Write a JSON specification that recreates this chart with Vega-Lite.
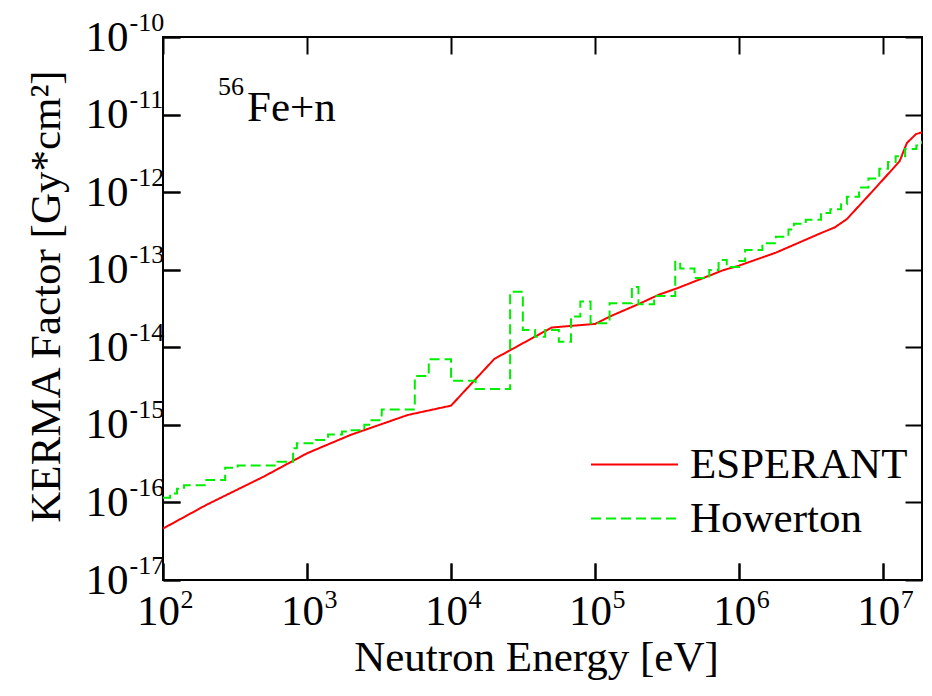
{
  "$schema": "https://vega.github.io/schema/vega-lite/v6.json",
  "width": 759,
  "height": 543,
  "autosize": {"type": "none"},
  "padding": {"left": 163, "top": 37, "right": 10, "bottom": 116},
  "background": "white",
  "config": {
    "view": {"stroke": "black", "strokeWidth": 2},
    "font": "Liberation Serif",
    "axis": {
      "grid": false,
      "domain": false,
      "tickColor": "black",
      "tickWidth": 2,
      "tickSize": -17,
      "labelFont": "Liberation Serif",
      "labelFontSize": 43,
      "labelColor": "black",
      "titleFont": "Liberation Serif",
      "titleFontSize": 43,
      "titleFontWeight": "normal",
      "titleColor": "black",
      "labelFlush": false,
      "labelOverlap": false,
      "labelBound": false
    },
    "legend": {
      "labelFont": "Liberation Serif",
      "labelFontSize": 43,
      "labelColor": "black",
      "labelLimit": 400
    }
  },
  "datasets": {
    "curves": [
      {"series": "ESPERANT", "E": 100, "K": 4.6e-17},
      {"series": "ESPERANT", "E": 200, "K": 9.3e-17},
      {"series": "ESPERANT", "E": 500, "K": 2.15e-16},
      {"series": "ESPERANT", "E": 1000, "K": 4.3e-16},
      {"series": "ESPERANT", "E": 2000, "K": 7.4e-16},
      {"series": "ESPERANT", "E": 5000, "K": 1.34e-15},
      {"series": "ESPERANT", "E": 10000, "K": 1.77e-15},
      {"series": "ESPERANT", "E": 20000, "K": 7.1e-15},
      {"series": "ESPERANT", "E": 50000, "K": 1.8e-14},
      {"series": "ESPERANT", "E": 100000, "K": 2.0e-14},
      {"series": "ESPERANT", "E": 127000, "K": 2.5e-14},
      {"series": "ESPERANT", "E": 200000, "K": 3.6e-14},
      {"series": "ESPERANT", "E": 280000, "K": 4.8e-14},
      {"series": "ESPERANT", "E": 370000, "K": 5.75e-14},
      {"series": "ESPERANT", "E": 780000, "K": 9.9e-14},
      {"series": "ESPERANT", "E": 1000000, "K": 1.13e-13},
      {"series": "ESPERANT", "E": 1800000, "K": 1.66e-13},
      {"series": "ESPERANT", "E": 3750000, "K": 3.0e-13},
      {"series": "ESPERANT", "E": 4600000, "K": 3.5e-13},
      {"series": "ESPERANT", "E": 5600000, "K": 4.5e-13},
      {"series": "ESPERANT", "E": 8600000, "K": 1.07e-12},
      {"series": "ESPERANT", "E": 13000000, "K": 2.5e-12},
      {"series": "ESPERANT", "E": 14600000, "K": 4.3e-12},
      {"series": "ESPERANT", "E": 16900000, "K": 5.6e-12},
      {"series": "ESPERANT", "E": 18600000, "K": 5.9e-12},
      {"series": "Howerton", "E": 100, "K": 1.15e-16},
      {"series": "Howerton", "E": 112, "K": 1.3e-16},
      {"series": "Howerton", "E": 125, "K": 1.5e-16},
      {"series": "Howerton", "E": 140, "K": 1.66e-16},
      {"series": "Howerton", "E": 200, "K": 1.95e-16},
      {"series": "Howerton", "E": 270, "K": 2.8e-16},
      {"series": "Howerton", "E": 330, "K": 3.0e-16},
      {"series": "Howerton", "E": 620, "K": 3.35e-16},
      {"series": "Howerton", "E": 800, "K": 5.0e-16},
      {"series": "Howerton", "E": 850, "K": 5.8e-16},
      {"series": "Howerton", "E": 1150, "K": 6.4e-16},
      {"series": "Howerton", "E": 1400, "K": 7.5e-16},
      {"series": "Howerton", "E": 1750, "K": 8.2e-16},
      {"series": "Howerton", "E": 2000, "K": 8.5e-16},
      {"series": "Howerton", "E": 2500, "K": 1.0e-15},
      {"series": "Howerton", "E": 2800, "K": 1.15e-15},
      {"series": "Howerton", "E": 3300, "K": 1.58e-15},
      {"series": "Howerton", "E": 5600, "K": 4.27e-15},
      {"series": "Howerton", "E": 7000, "K": 7.0e-15},
      {"series": "Howerton", "E": 10000, "K": 3.7e-15},
      {"series": "Howerton", "E": 14800, "K": 2.9e-15},
      {"series": "Howerton", "E": 25700, "K": 5.2e-14},
      {"series": "Howerton", "E": 31500, "K": 1.67e-14},
      {"series": "Howerton", "E": 38300, "K": 1.37e-14},
      {"series": "Howerton", "E": 45000, "K": 1.67e-14},
      {"series": "Howerton", "E": 56000, "K": 1.18e-14},
      {"series": "Howerton", "E": 68000, "K": 2.5e-14},
      {"series": "Howerton", "E": 79000, "K": 3.9e-14},
      {"series": "Howerton", "E": 93000, "K": 2.04e-14},
      {"series": "Howerton", "E": 126000, "K": 3.7e-14},
      {"series": "Howerton", "E": 180000, "K": 6.0e-14},
      {"series": "Howerton", "E": 200000, "K": 3.6e-14},
      {"series": "Howerton", "E": 257000, "K": 4.6e-14},
      {"series": "Howerton", "E": 360000, "K": 1.27e-13},
      {"series": "Howerton", "E": 390000, "K": 1.04e-13},
      {"series": "Howerton", "E": 490000, "K": 7.8e-14},
      {"series": "Howerton", "E": 620000, "K": 9.9e-14},
      {"series": "Howerton", "E": 720000, "K": 1.33e-13},
      {"series": "Howerton", "E": 820000, "K": 1.08e-13},
      {"series": "Howerton", "E": 1000000, "K": 1.3e-13},
      {"series": "Howerton", "E": 1100000, "K": 1.8e-13},
      {"series": "Howerton", "E": 1450000, "K": 2.2e-13},
      {"series": "Howerton", "E": 1800000, "K": 2.67e-13},
      {"series": "Howerton", "E": 2200000, "K": 3.3e-13},
      {"series": "Howerton", "E": 2400000, "K": 3.9e-13},
      {"series": "Howerton", "E": 2900000, "K": 4.4e-13},
      {"series": "Howerton", "E": 3700000, "K": 5.4e-13},
      {"series": "Howerton", "E": 4300000, "K": 6.0e-13},
      {"series": "Howerton", "E": 5100000, "K": 7.0e-13},
      {"series": "Howerton", "E": 5600000, "K": 8.7e-13},
      {"series": "Howerton", "E": 6800000, "K": 1.15e-12},
      {"series": "Howerton", "E": 7900000, "K": 1.5e-12},
      {"series": "Howerton", "E": 9400000, "K": 2.0e-12},
      {"series": "Howerton", "E": 10800000, "K": 2.45e-12},
      {"series": "Howerton", "E": 12200000, "K": 2.9e-12},
      {"series": "Howerton", "E": 14200000, "K": 3.6e-12},
      {"series": "Howerton", "E": 17000000, "K": 4.0e-12},
      {"series": "Howerton", "E": 18600000, "K": 4.6e-12}
    ],
    "isotope": [
      {"E": 241, "K": 1.79e-11, "label": "56"}
    ],
    "reaction": [
      {"E": 383, "K": 8.26e-12, "label": "Fe+n"}
    ]
  },
  "layer": [
    {
      "data": {"name": "curves"},
      "transform": [{"filter": "datum.series === 'ESPERANT'"}],
      "mark": {"type": "line", "strokeWidth": 2, "clip": true},
      "encoding": {
        "x": {
          "field": "E", "type": "quantitative",
          "scale": {"type": "log", "domain": [100, 18600000], "nice": false},
          "axis": {
            "orient": "bottom",
            "title": "Neutron Energy [eV]",
            "values": [100, 1000, 10000, 100000, 1000000, 10000000],
            "labelExpr": "'10'",
            "labelAlign": "center",
            "labelBaseline": "top",
            "labelOffset": -5,
            "labelPadding": 27,
            "titlePadding": 3,
            "titleX": 373
          }
        },
        "y": {
          "field": "K", "type": "quantitative",
          "scale": {"type": "log", "domain": [1e-17, 1e-10], "nice": false},
          "axis": {
            "orient": "left",
            "title": "KERMA Factor [Gy*cm²]",
            "values": [1e-17, 1e-16, 1e-15, 1e-14, 1e-13, 1e-12, 1e-11, 1e-10],
            "labelExpr": "'10'",
            "labelAlign": "right",
            "labelBaseline": "middle",
            "labelPadding": 52,
            "titlePadding": 17,
            "titleY": 259
          }
        },
        "color": {
          "field": "series", "type": "nominal",
          "scale": {"domain": ["ESPERANT", "Howerton"], "range": ["#ff0000", "#00ee00"]},
          "legend": {
            "orient": "none",
            "legendX": 427,
            "legendY": 406,
            "title": null,
            "symbolType": "stroke",
            "symbolSize": 7569,
            "symbolStrokeWidth": 2,
            "clipHeight": 43,
            "rowPadding": 10,
            "labelOffset": 11,
            "padding": 0
          }
        },
        "strokeDash": {
          "field": "series", "type": "nominal",
          "scale": {"domain": ["ESPERANT", "Howerton"], "range": [[1, 0], [10, 5]]},
          "legend": {
            "orient": "none",
            "legendX": 427,
            "legendY": 406,
            "title": null,
            "symbolType": "stroke",
            "symbolSize": 7569,
            "symbolStrokeWidth": 2,
            "clipHeight": 43,
            "rowPadding": 10,
            "labelOffset": 11,
            "padding": 0
          }
        }
      }
    },
    {
      "data": {"name": "curves"},
      "transform": [{"filter": "datum.series === 'Howerton'"}],
      "mark": {"type": "line", "strokeWidth": 2, "interpolate": "step-after", "clip": true},
      "encoding": {
        "x": {
          "field": "E", "type": "quantitative",
          "axis": {
            "orient": "top",
            "title": null,
            "labels": false,
            "values": [100, 1000, 10000, 100000, 1000000, 10000000]
          }
        },
        "y": {
          "field": "K", "type": "quantitative",
          "axis": {
            "orient": "right",
            "title": null,
            "labels": false,
            "values": [1e-17, 1e-16, 1e-15, 1e-14, 1e-13, 1e-12, 1e-11, 1e-10]
          }
        },
        "color": {"field": "series", "type": "nominal"},
        "strokeDash": {"field": "series", "type": "nominal"}
      }
    },
    {
      "data": {"name": "isotope"},
      "mark": {"type": "text", "align": "left", "baseline": "alphabetic", "font": "Liberation Serif", "fontSize": 26, "color": "black"},
      "encoding": {
        "x": {
          "field": "E", "type": "quantitative",
          "axis": {
            "orient": "bottom",
            "title": null,
            "values": [100, 1000, 10000, 100000, 1000000, 10000000],
            "labelExpr": "'' + round(log(datum.value) / LN10)",
            "labelFontSize": 26,
            "labelAlign": "left",
            "labelBaseline": "top",
            "labelOffset": 17,
            "labelPadding": 23
          }
        },
        "y": {
          "field": "K", "type": "quantitative",
          "axis": {
            "orient": "left",
            "title": null,
            "values": [1e-17, 1e-16, 1e-15, 1e-14, 1e-13, 1e-12, 1e-11, 1e-10],
            "labelExpr": "'' + round(log(datum.value) / LN10)",
            "labelFontSize": 26,
            "labelAlign": "left",
            "labelBaseline": "alphabetic",
            "labelOffset": -7,
            "labelPadding": 51
          }
        },
        "text": {"field": "label"}
      }
    },
    {
      "data": {"name": "reaction"},
      "mark": {"type": "text", "align": "left", "baseline": "alphabetic", "font": "Liberation Serif", "fontSize": 43, "color": "black"},
      "encoding": {
        "x": {"field": "E", "type": "quantitative", "axis": null},
        "y": {"field": "K", "type": "quantitative", "axis": null},
        "text": {"field": "label"}
      }
    }
  ],
  "resolve": {"axis": {"x": "independent", "y": "independent"}}
}
